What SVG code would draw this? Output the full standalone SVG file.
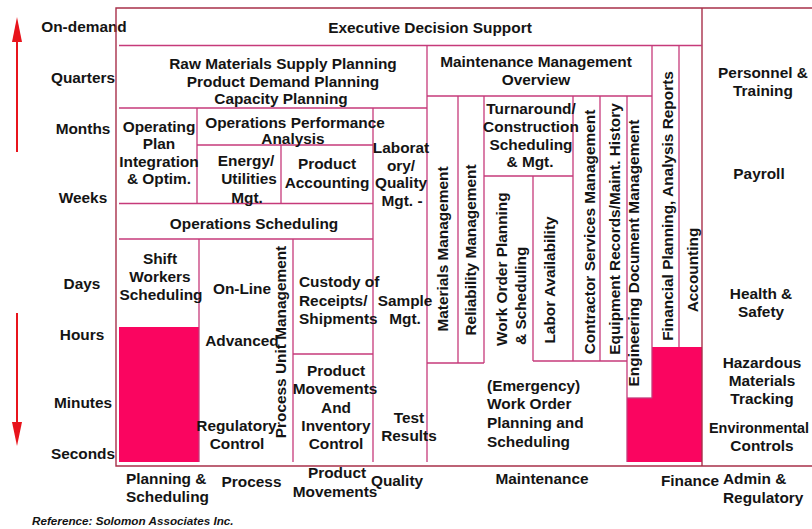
<svg xmlns="http://www.w3.org/2000/svg" width="812" height="529" viewBox="0 0 812 529">
<style>
text{font-family:"Liberation Sans",Arial,sans-serif;font-weight:bold;font-size:15.4px;fill:#141414}
.m{text-anchor:middle}
.frame{stroke:#a8304a;stroke-width:1.4;fill:none}
.ln{stroke:#c63a7a;stroke-width:1.3;fill:none}
.fill{fill:#fa0560;stroke:none}
.arrow{stroke:#e8141c;stroke-width:2;fill:none}
.ahead{fill:#e8141c}
.ref{font-style:italic;font-size:11.7px}
</style>
<rect width="812" height="529" fill="#ffffff"/>

<g id="time-axis">
<line class="arrow" x1="17" y1="152" x2="17" y2="38"/>
<polygon class="ahead" points="12,42 22,42 17,17"/>
<line class="arrow" x1="17" y1="313" x2="17" y2="426"/>
<polygon class="ahead" points="12,422 22,422 17,446"/>
<text class="m" x="84" y="32">On-demand</text>
<text class="m" x="83" y="83">Quarters</text>
<text class="m" x="83" y="134">Months</text>
<text class="m" x="83" y="203">Weeks</text>
<text class="m" x="82" y="289">Days</text>
<text class="m" x="82" y="340">Hours</text>
<text class="m" x="83" y="408">Minutes</text>
<text class="m" x="83" y="459">Seconds</text>
</g>

<g id="fills">
<rect class="fill" x="119" y="327" width="80" height="135"/>
<polygon class="fill" points="627,398 652,398 652,347 702,347 702,462 627,462"/>
</g>

<g id="grid">
<polyline class="frame" points="812,8 116,8 116,466 812,466"/>
<line class="frame" x1="702" y1="8" x2="702" y2="466"/>
<line class="ln" x1="119" y1="45.5" x2="702" y2="45.5"/>
<line class="ln" x1="119" y1="108" x2="427" y2="108"/>
<line class="ln" x1="197" y1="145" x2="373" y2="145"/>
<line class="ln" x1="119" y1="203.5" x2="373" y2="203.5"/>
<line class="ln" x1="119" y1="239" x2="373" y2="239"/>
<line class="ln" x1="197" y1="108" x2="197" y2="203.5"/>
<line class="ln" x1="281" y1="145" x2="281" y2="203.5"/>
<line class="ln" x1="373" y1="108" x2="373" y2="462"/>
<line class="ln" x1="199" y1="239" x2="199" y2="462"/>
<line class="ln" x1="293" y1="239" x2="293" y2="462"/>
<line class="ln" x1="293" y1="354" x2="373" y2="354"/>
<line class="ln" x1="427" y1="45.5" x2="427" y2="462"/>
<line class="ln" x1="427" y1="96" x2="652" y2="96"/>
<line class="ln" x1="652" y1="45.5" x2="652" y2="398"/>
<line class="ln" x1="679" y1="45.5" x2="679" y2="347"/>
<line class="ln" x1="458" y1="96" x2="458" y2="363"/>
<line class="ln" x1="484" y1="96" x2="484" y2="363"/>
<line class="ln" x1="427" y1="363" x2="484" y2="363"/>
<line class="ln" x1="484" y1="176" x2="573" y2="176"/>
<line class="ln" x1="533" y1="176" x2="533" y2="361"/>
<line class="ln" x1="573" y1="96" x2="573" y2="361"/>
<line class="ln" x1="600" y1="96" x2="600" y2="361"/>
<line class="ln" x1="627" y1="96" x2="627" y2="462"/>
<line class="ln" x1="533" y1="361" x2="627" y2="361"/>
<line class="ln" x1="627" y1="398" x2="652" y2="398"/>
</g>

<g id="executive-decision-support"><text class="m" x="430" y="33">Executive Decision Support</text></g>
<g id="planning">
<text class="m" x="283" y="69">Raw Materials Supply Planning</text>
<text class="m" x="283" y="86.5">Product Demand Planning</text>
<text class="m" x="281" y="104">Capacity Planning</text>
</g>
<g id="operating-plan">
<text class="m" x="159" y="131.5">Operating</text>
<text class="m" x="159" y="148.5">Plan</text>
<text class="m" x="159" y="166.5">Integration</text>
<text class="m" x="159" y="183.5">&amp; Optim.</text>
</g>
<g id="operations-performance">
<text class="m" x="295" y="127.5">Operations Performance</text>
<text class="m" x="293" y="143.5">Analysis</text>
</g>
<g id="energy-utilities">
<text class="m" x="246" y="165.5">Energy/</text>
<text class="m" x="249" y="183.5">Utilities</text>
<text class="m" x="247" y="202.5">Mgt.</text>
</g>
<g id="product-accounting">
<text class="m" x="327" y="169">Product</text>
<text class="m" x="327" y="187.5">Accounting</text>
</g>
<g id="laboratory">
<text class="m" x="401" y="152.5">Laborat</text>
<text class="m" x="401" y="170.5">ory/</text>
<text class="m" x="401" y="188">Quality</text>
<text class="m" x="402" y="205.5">Mgt. -</text>
</g>
<g id="operations-scheduling"><text class="m" x="254" y="229">Operations Scheduling</text></g>
<g id="shift-workers">
<text class="m" x="160" y="263.5">Shift</text>
<text class="m" x="160" y="282">Workers</text>
<text class="m" x="161" y="300">Scheduling</text>
</g>
<g id="process-control">
<text class="m" x="242" y="294">On-Line</text>
<text class="m" x="242" y="346">Advanced</text>
<text class="m" x="236.5" y="430.5">Regulatory</text>
<text class="m" x="237" y="448.5">Control</text>
<text class="m" transform="translate(286,342) rotate(-90)">Process Unit Management</text>
</g>
<g id="custody">
<text x="299" y="287">Custody of</text>
<text x="299" y="305.5">Receipts/</text>
<text x="299" y="323.5">Shipments</text>
</g>
<g id="product-movements">
<text class="m" x="336" y="375.5">Product</text>
<text class="m" x="335" y="394">Movements</text>
<text class="m" x="336" y="412.5">And</text>
<text class="m" x="336" y="431">Inventory</text>
<text class="m" x="336" y="448.5">Control</text>
</g>
<g id="sample">
<text class="m" x="405" y="305.5">Sample</text>
<text class="m" x="405" y="323.5">Mgt.</text>
</g>
<g id="test-results">
<text class="m" x="409" y="422.5">Test</text>
<text class="m" x="409" y="440.5">Results</text>
</g>
<g id="maintenance-overview">
<text class="m" x="536" y="66.5">Maintenance Management</text>
<text class="m" x="536" y="84.5">Overview</text>
</g>
<g id="turnaround">
<text class="m" x="531" y="113.5">Turnaround/</text>
<text class="m" x="531" y="132">Construction</text>
<text class="m" x="531" y="149.5">Scheduling</text>
<text class="m" x="530" y="167">&amp; Mgt.</text>
</g>
<g id="materials-management"><text class="m" transform="translate(448,249) rotate(-90)">Materials Management</text></g>
<g id="reliability-management"><text class="m" transform="translate(476,250) rotate(-90)">Reliability Management</text></g>
<g id="work-order-planning">
<text transform="translate(507,346) rotate(-90)">Work Order Planning</text>
<text transform="translate(526,345) rotate(-90)">&amp; Scheduling</text>
</g>
<g id="labor-availability"><text class="m" transform="translate(555,280) rotate(-90)">Labor Availability</text></g>
<g id="contractor-services"><text class="m" transform="translate(595,232) rotate(-90)">Contractor Services Management</text></g>
<g id="equipment-records"><text class="m" transform="translate(620,229) rotate(-90)">Equipment Records/Maint. History</text></g>
<g id="engineering-document"><text class="m" transform="translate(639,253) rotate(-90)">Engineering Document Management</text></g>
<g id="financial-planning"><text class="m" transform="translate(673,206) rotate(-90)">Financial Planning, Analysis Reports</text></g>
<g id="accounting"><text class="m" transform="translate(698,270) rotate(-90)">Accounting</text></g>
<g id="emergency-work-order">
<text x="487" y="390.5">(Emergency)</text>
<text x="487" y="408.5">Work Order</text>
<text x="487" y="427.5">Planning and</text>
<text x="487" y="446.5">Scheduling</text>
</g>
<g id="admin-items">
<text class="m" x="763" y="77.5">Personnel &amp;</text>
<text class="m" x="763" y="95.5">Training</text>
<text class="m" x="759" y="178.5">Payroll</text>
<text class="m" x="761" y="298.5">Health &amp;</text>
<text class="m" x="761" y="317">Safety</text>
<text class="m" x="762" y="367.5">Hazardous</text>
<text class="m" x="762" y="385.5">Materials</text>
<text class="m" x="762" y="403.5">Tracking</text>
<text class="m" x="759" y="432.5" style="font-size:14.4px">Environmental</text>
<text class="m" x="762" y="450.5">Controls</text>
</g>
<g id="categories">
<text x="126" y="483.5">Planning &amp;</text>
<text x="126" y="502">Scheduling</text>
<text class="m" x="251.5" y="486.5">Process</text>
<text class="m" x="337" y="477.5">Product</text>
<text class="m" x="335" y="496.5">Movements</text>
<text class="m" x="397" y="485.5">Quality</text>
<text class="m" x="542" y="483.5">Maintenance</text>
<text class="m" x="690" y="485.5">Finance</text>
<text x="723" y="483.5">Admin &amp;</text>
<text x="723" y="502.5">Regulatory</text>
</g>
<g id="reference"><text class="ref" x="32" y="525">Reference:  Solomon Associates Inc.</text></g>
</svg>
